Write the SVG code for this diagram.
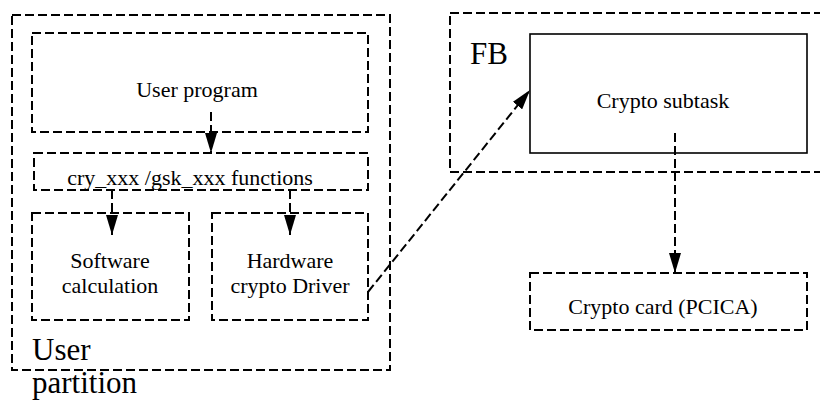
<svg xmlns="http://www.w3.org/2000/svg" width="820" height="403" viewBox="0 0 820 403">
<style>
.box{fill:none;stroke:#000;stroke-width:2;stroke-dasharray:9 4}
.solid{fill:#fff;stroke:#000;stroke-width:1.6}
.t{font-size:22px;fill:#000;text-anchor:middle}
.big{font-size:31px;fill:#000}
.conn{fill:none;stroke:#000;stroke-width:2;stroke-dasharray:9 4}
</style>
<defs>
<marker id="ah" viewBox="0 0 20 12" refX="20" refY="6" markerWidth="20" markerHeight="12" markerUnits="userSpaceOnUse" orient="auto">
<path d="M0,0 L20,6 L0,12 Z" fill="#000"/>
</marker>
</defs>
<rect width="820" height="403" fill="#fff"/>
<g font-family="Liberation Serif, DejaVu Serif, serif">
<g id="user-partition">
<rect class="box" x="12" y="15" width="378" height="355"/>
<text class="big" x="32" y="360">User</text>
<text class="big" x="32" y="393">partition</text>
</g>
<g id="user-program">
<rect class="box" x="32" y="33" width="336" height="99"/>
<text class="t" x="197" y="97">User program</text>
</g>
<g id="functions">
<rect class="box" x="34" y="153" width="334" height="37"/>
<text class="t" x="190" y="185">cry_xxx /gsk_xxx functions</text>
</g>
<g id="software">
<rect class="box" x="32" y="213" width="157" height="107"/>
<text class="t" x="110" y="268">Software</text>
<text class="t" x="110" y="293">calculation</text>
</g>
<g id="hardware">
<rect class="box" x="212" y="213" width="156" height="107"/>
<text class="t" x="290" y="268">Hardware</text>
<text class="t" x="290" y="293">crypto Driver</text>
</g>
<g id="fb">
<rect class="box" x="450" y="13" width="380" height="159"/>
<text class="big" x="470" y="64">FB</text>
</g>
<g id="crypto-subtask">
<rect class="solid" x="530" y="34" width="277" height="119"/>
<text class="t" x="663" y="108">Crypto subtask</text>
</g>
<g id="crypto-card">
<rect class="box" x="530" y="273" width="277" height="57"/>
<text class="t" x="663" y="314">Crypto card (PCICA)</text>
</g>
</g>
<g id="connectors">
<path class="conn" d="M211,112 L211,153" marker-end="url(#ah)"/>
<path class="conn" d="M112,190 L112,235" marker-end="url(#ah)"/>
<path class="conn" d="M290,190 L290,235" marker-end="url(#ah)"/>
<path class="conn" d="M368,292 L530,90" marker-end="url(#ah)"/>
<path class="conn" d="M675,133 L675,273" marker-end="url(#ah)"/>
</g>
</svg>
